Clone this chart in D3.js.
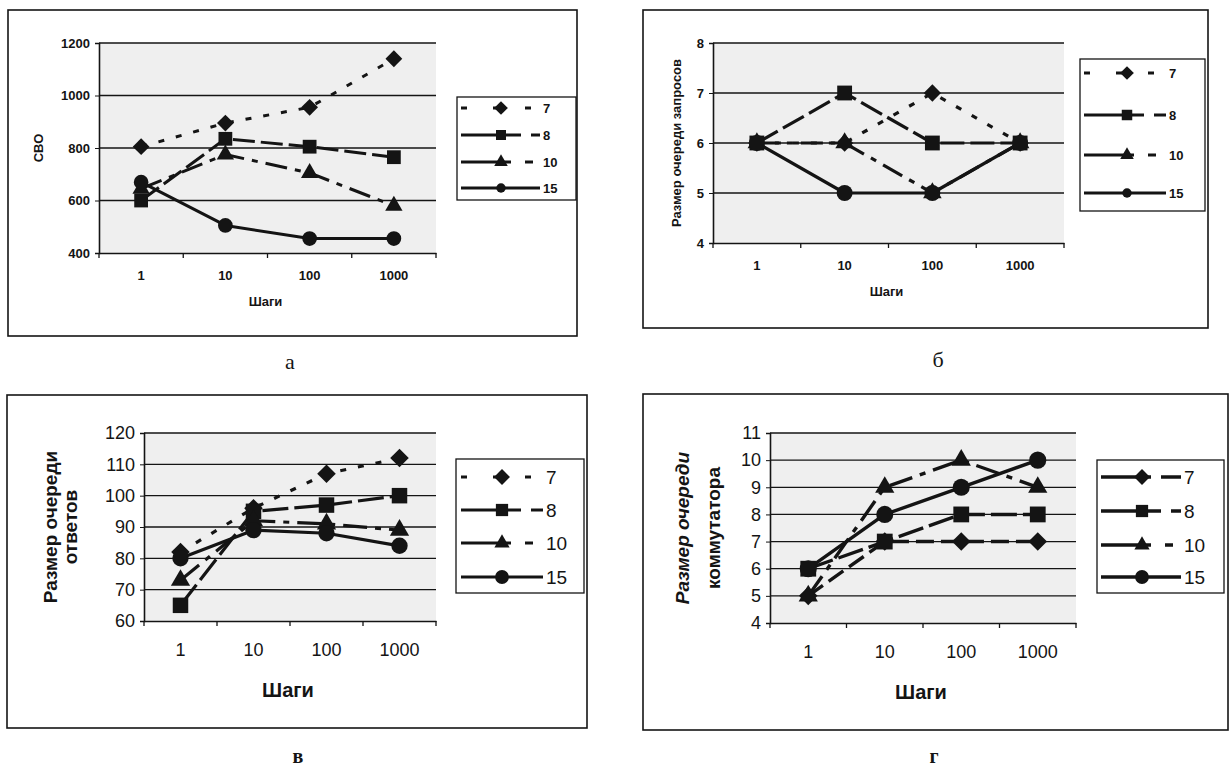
<!DOCTYPE html>
<html><head><meta charset="utf-8">
<script src="https://cdn.jsdelivr.net/npm/d3@7"></script>
<style>body{margin:0;background:#fff}</style>
</head><body><svg id="c" width="1231" height="773"></svg>
<script>
// ---------------- data ----------------
const steps = ["1", "10", "100", "1000"];
const seriesNames = ["7", "8", "10", "15"];
const xTitle = "Шаги";

// а: СВО
const svo7 = [805, 895, 955, 1140];
const svo8 = [600, 835, 805, 765];
const svo10 = [645, 775, 705, 580];
const svo15 = [670, 505, 455, 455];
const svoTicks = [400, 600, 800, 1000, 1200];

// б: Размер очереди запросов
const req7 = [6, 6, 7, 6];
const req8 = [6, 7, 6, 6];
const req10 = [6, 6, 5, 6];
const req15 = [6, 5, 5, 6];
const reqTicks = [4, 5, 6, 7, 8];

// в: Размер очереди ответов
const resp7 = [82, 96, 107, 112];
const resp8 = [65, 95, 97, 100];
const resp10 = [73, 92, 91, 89];
const resp15 = [80, 89, 88, 84];
const respTicks = [60, 70, 80, 90, 100, 110, 120];

// г: Размер очереди коммутатора
const sw7 = [5, 7, 7, 7];
const sw8 = [6, 7, 8, 8];
const sw10 = [5, 9, 10, 9];
const sw15 = [6, 8, 9, 10];
const swTicks = [4, 5, 6, 7, 8, 9, 10, 11];

// ---------------- layout ----------------
const svg = d3.select("#c");
const INK = "#141414";
const symbols = [d3.symbolDiamond2, d3.symbolSquare, d3.symbolTriangle, d3.symbolCircle];

const panels = [
  { series: [svo7, svo8, svo10, svo15], ticks: svoTicks, title: ["СВО"], titleX: [40], italic: false,
    frame: [8, 10, 577, 336], plot: [99, 43, 436, 253], label: "а", labelXY: [290, 364], capBold: false,
    legend: { box: [457, 97, 576, 200], ys: [108, 135, 162, 188], l0: 461, l1: 540, mk: 501, lab: 543, fs: 13 },
    tickFs: 13, xTitleFs: 13, titleFs: 13, lw: 3, mkSize: [180, 190, 130, 170], legMk: [120, 100, 80, 70],
    dash: ["6,12", "22,6", "22,8,6,8", null], legDash: ["6,26", "60,10", "50,14,8,14", null] },
  { series: [req7, req8, req10, req15], ticks: reqTicks, title: ["Размер очереди запросов"], titleX: [678], italic: false,
    frame: [643, 10, 1208, 328], plot: [713, 43, 1064, 243], label: "б", labelXY: [938, 362], capBold: false,
    legend: { box: [1080, 59, 1205, 211], ys: [73, 115, 155, 193], l0: 1084, l1: 1166, mk: 1127, lab: 1169, fs: 13 },
    tickFs: 13, xTitleFs: 13, titleFs: 13, lw: 3.2, mkSize: [190, 220, 150, 200], legMk: [120, 110, 80, 70],
    dash: ["6,12", "24,6", "22,8,6,8", null], legDash: ["6,26", "60,10", "50,14,8,14", null] },
  { series: [resp7, resp8, resp10, resp15], ticks: respTicks, title: ["Размер очереди", "ответов"], titleX: [52, 72], italic: false,
    frame: [7, 395, 587, 728], plot: [144, 433, 436, 621], label: "в", labelXY: [298, 758], capBold: true,
    legend: { box: [456, 459, 584, 593], ys: [477, 510, 543, 577], l0: 461, l1: 543, mk: 502, lab: 546, fs: 19 },
    tickFs: 18, xTitleFs: 20, titleFs: 19, lw: 3.2, mkSize: [220, 240, 160, 210], legMk: [160, 150, 100, 150],
    dash: ["6,12", "26,6", "24,8,6,8", null], legDash: ["6,26", "60,10", "50,14,8,14", null] },
  { series: [sw7, sw8, sw10, sw15], ticks: swTicks, title: ["Размер очереди", "коммутатора"], titleX: [684, 715], italic: true,
    frame: [643, 394, 1228, 730], plot: [770, 433, 1076, 623], label: "г", labelXY: [934, 758], capBold: true,
    legend: { box: [1097, 460, 1224, 593], ys: [477, 511, 545, 577], l0: 1101, l1: 1181, mk: 1142, lab: 1184, fs: 19 },
    tickFs: 18, xTitleFs: 20, titleFs: 19, lw: 3.4, mkSize: [220, 250, 160, 230], legMk: [160, 150, 100, 150],
    dash: ["18,7", "26,6", "24,8,6,8", null], legDash: ["50,10", "60,10", "50,14,8,14", null] }
];

panels.forEach(p => {
  const g = svg.append("g");
  const [fx0, fy0, fx1, fy1] = p.frame;
  const [px0, py0, px1, py1] = p.plot;

  // outer frame
  g.append("rect").attr("x", fx0).attr("y", fy0).attr("width", fx1 - fx0).attr("height", fy1 - fy0)
    .attr("fill", "none").attr("stroke", INK).attr("stroke-width", 1.6);

  // plot background
  g.append("rect").attr("x", px0).attr("y", py0).attr("width", px1 - px0).attr("height", py1 - py0)
    .attr("fill", "#efefef");

  const x = d3.scaleBand().domain(steps).range([px0, px1]).padding(0);
  const y = d3.scaleLinear().domain([p.ticks[0], p.ticks[p.ticks.length - 1]]).range([py1, py0]);
  const cx = s => x(s) + x.bandwidth() / 2;

  // gridlines
  g.append("g").selectAll("line").data(p.ticks.slice(1)).join("line")
    .attr("x1", px0).attr("x2", px1).attr("y1", d => y(d)).attr("y2", d => y(d))
    .attr("stroke", INK).attr("stroke-width", 1.3);

  // y axis
  const ya = g.append("g").attr("transform", `translate(${px0},0)`)
    .call(d3.axisLeft(y).tickValues(p.ticks).tickSize(4).tickPadding(5).tickFormat(d3.format("d")));
  ya.select(".domain").attr("stroke", INK).attr("stroke-width", 1.6);
  ya.selectAll(".tick line").attr("stroke", INK);
  ya.selectAll("text").attr("font-family", "Liberation Sans, Arial, sans-serif")
    .attr("font-size", p.tickFs).attr("font-weight", p.tickFs < 15 ? "bold" : "normal").attr("fill", INK);

  // x axis (category, ticks between categories)
  const xa = g.append("g").attr("transform", `translate(0,${py1})`)
    .call(d3.axisBottom(x).tickSize(0).tickPadding(p.tickFs < 15 ? 18 : 22));
  xa.select(".domain").attr("stroke", INK).attr("stroke-width", 1.6);
  xa.selectAll("text").attr("font-family", "Liberation Sans, Arial, sans-serif")
    .attr("font-size", p.tickFs).attr("font-weight", p.tickFs < 15 ? "bold" : "normal").attr("fill", INK);
  const edges = steps.map(s => x(s)).concat([x(steps[steps.length - 1]) + x.bandwidth()]);
  g.append("g").selectAll("line").data(edges).join("line")
    .attr("x1", d => d).attr("x2", d => d).attr("y1", py1).attr("y2", py1 + 5)
    .attr("stroke", INK).attr("stroke-width", 1.3);

  // x title
  g.append("text").attr("x", (px0 + px1) / 2 - 2).attr("y", py1 + (p.tickFs < 15 ? 53 : 76))
    .attr("text-anchor", "middle").attr("font-family", "Liberation Sans, Arial, sans-serif")
    .attr("font-weight", "bold").attr("font-size", p.xTitleFs).attr("fill", INK).text(xTitle);

  // y title
  p.title.forEach((t, i) => {
    const tx = p.titleX[i], ty = (py0 + py1) / 2;
    g.append("text").attr("transform", `translate(${tx},${ty}) rotate(-90)`)
      .attr("text-anchor", "middle").attr("dominant-baseline", "middle")
      .attr("font-family", "Liberation Sans, Arial, sans-serif").attr("font-weight", "bold")
      .attr("font-style", p.italic && i === 0 ? "italic" : "normal")
      .attr("font-size", p.titleFs).attr("fill", INK).text(t);
  });

  // series
  const line = d3.line().x((d, i) => cx(steps[i])).y(d => y(d));
  p.series.forEach((vals, si) => {
    g.append("path").datum(vals).attr("d", line).attr("fill", "none")
      .attr("stroke", INK).attr("stroke-width", p.lw)
      .attr("stroke-dasharray", p.dash[si]).attr("stroke-linejoin", "round");
    g.append("g").selectAll("path").data(vals).join("path")
      .attr("transform", (d, i) => `translate(${cx(steps[i])},${y(d)})`)
      .attr("d", d3.symbol().type(symbols[si]).size(p.mkSize[si])).attr("fill", INK);
  });

  // legend
  const L = p.legend;
  g.append("rect").attr("x", L.box[0]).attr("y", L.box[1]).attr("width", L.box[2] - L.box[0])
    .attr("height", L.box[3] - L.box[1]).attr("fill", "#fff").attr("stroke", INK).attr("stroke-width", 1.3);
  seriesNames.forEach((name, si) => {
    const ly = L.ys[si];
    g.append("line").attr("x1", L.l0).attr("x2", L.l1).attr("y1", ly).attr("y2", ly)
      .attr("stroke", INK).attr("stroke-width", p.lw).attr("stroke-dasharray", p.legDash[si]);
    g.append("path").attr("transform", `translate(${L.mk},${ly})`)
      .attr("d", d3.symbol().type(symbols[si]).size(p.legMk[si])).attr("fill", INK);
    g.append("text").attr("x", L.lab).attr("y", ly).attr("dy", "0.36em")
      .attr("font-family", "Liberation Sans, Arial, sans-serif").attr("font-size", L.fs)
      .attr("font-weight", L.fs < 15 ? "bold" : "normal").attr("fill", INK).text(name);
  });

  // panel caption
  g.append("text").attr("x", p.labelXY[0]).attr("y", p.labelXY[1]).attr("text-anchor", "middle")
    .attr("dominant-baseline", "middle").attr("font-family", "Liberation Serif, Times New Roman, serif")
    .attr("font-weight", p.capBold ? "bold" : "normal")
    .attr("font-size", p.capBold ? 20 : 22).attr("fill", INK).text(p.label);
});
</script>
</body></html>
